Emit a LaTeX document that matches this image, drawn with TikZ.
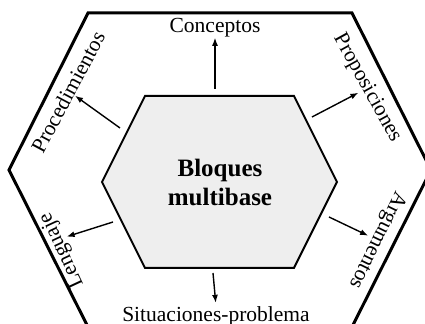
\documentclass[tikz,border=0pt]{standalone}
\usepackage{fontspec}
\setmainfont{Liberation Serif}
\usetikzlibrary{arrows.meta, calc}

\begin{document}
\begin{tikzpicture}[
    x=0.5pt, y=-0.5pt,
    lbl/.style={inner sep=0pt, font=\fontsize{10.75}{13}\selectfont},
    centro/.style={align=center, inner sep=0pt, font=\fontsize{12.5}{14.5}\selectfont\bfseries},
    arrow/.style={-{Latex[length=4pt, width=3pt]}, line width=0.7pt}
]
\useasboundingbox (0,0) rectangle (425,324);

% Hexágono exterior
\draw[line width=1.5pt] (88,13) -- (352,13) -- (431,170) -- (352,327) -- (88,327) -- (9,170) -- cycle;

% Hexágono interior
\draw[line width=1pt, fill=gray!13] (145,96) -- (294,96) -- (337,182) -- (294,268) -- (145,268) -- (102,182) -- cycle;
\node[centro] (bloques) at (220,182) {Bloques\\multibase};

% Etiquetas
\node[lbl] (conceptos) at (215,28) {Conceptos};
\node[lbl, rotate=62] (procedimientos) at (68,92) {Procedimientos};
\node[lbl, rotate=-61] (proposiciones) at (367,88) {Proposiciones};
\node[lbl, rotate=115] (lenguaje) at (62,250) {Lenguaje};
\node[lbl, rotate=-116] (argumentos) at (377,240) {Argumentos};
\node[lbl] (situaciones) at (216,316) {Situaciones-problema};

% Origen de las flechas
\coordinate (pc) at (215,89);
\coordinate (ppr) at (120,128);
\coordinate (pp) at (312,117);
\coordinate (pl) at (113,222);
\coordinate (pa) at (329,217);
\coordinate (ps) at (213,273);

% Flechas
\draw[arrow] (pc) -- (conceptos.south);
\draw[arrow] (ppr) -- (procedimientos.south);
\draw[arrow] (pp) -- (proposiciones.south);
\draw[arrow] (pl) -- ($(lenguaje.south)!0.25!(lenguaje.south east)$);
\draw[arrow] (pa) -- (argumentos.south);
\draw[arrow, shorten >=1.5pt] (ps) -- (situaciones.north);

\end{tikzpicture}
\end{document}
